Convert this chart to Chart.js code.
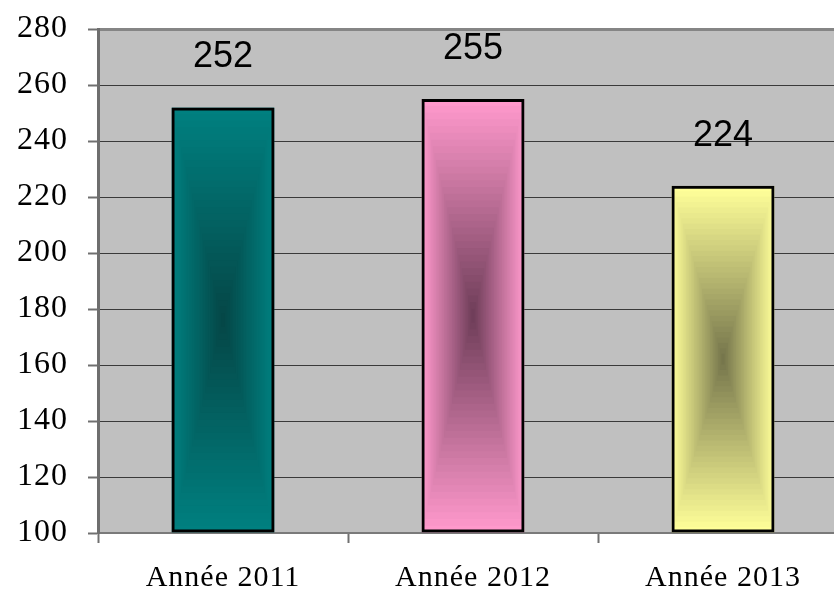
<!DOCTYPE html>
<html>
<head>
<meta charset="utf-8">
<script src="https://cdn.jsdelivr.net/npm/chart.js@4"></script>
<style>
  html, body { margin: 0; padding: 0; overflow: hidden; background: #ffffff; }
  #wrap { position: absolute; left: 0; top: 0; width: 850px; height: 594px; }
</style>
</head>
<body>
<div id="wrap"><canvas id="c" width="850" height="594"></canvas></div>
<script>
// Categories and values
const categories = ['Année 2011', 'Année 2012', 'Année 2013'];
const values = [252, 255, 224];

// Value axis range
const yMin = 100;
const yMax = 280;
const yStep = 20;

// Bar fill: edge colour fading to a darker core in the middle
const edgeColors = ['#008080', '#FF99CC', '#FFFF99'];
const coreColors = ['#054545', '#6b3b56', '#72724a'];

function hexToRgb(h) {
  const n = parseInt(h.slice(1), 16);
  return [(n >> 16) & 255, (n >> 8) & 255, n & 255];
}
function mix(a, b, t) {
  const A = hexToRgb(a), B = hexToRgb(b);
  const c = A.map((v, i) => Math.round(v + (B[i] - v) * t));
  return 'rgb(' + c.join(',') + ')';
}

// Background of the plot area
const plotBackground = {
  id: 'plotBackground',
  beforeDraw(chart) {
    const { ctx, chartArea: a } = chart;
    ctx.save();
    ctx.fillStyle = '#C0C0C0';
    ctx.fillRect(a.left, a.top, a.right - a.left, a.bottom - a.top);
    ctx.restore();
  }
};

// Rectangular "from centre" gradient painted under each bar outline
const centreGradient = {
  id: 'centreGradient',
  beforeDatasetsDraw(chart) {
    const { ctx, chartArea: a } = chart;
    const meta = chart.getDatasetMeta(0);
    const steps = 32;
    meta.data.forEach((bar, i) => {
      const left = bar.x - bar.width / 2;
      const top = Math.max(Math.min(bar.y, bar.base), a.top);
      const bottom = Math.min(Math.max(bar.y, bar.base), a.bottom);
      const h = bottom - top;
      const cx = bar.x, cy = top + h / 2;
      const hw = bar.width / 2, hh = h / 2;
      ctx.save();
      ctx.beginPath();
      ctx.rect(left, top, bar.width, h);
      ctx.clip();
      for (let s = steps; s >= 1; s--) {
        const t = s / steps;
        ctx.fillStyle = mix(coreColors[i], edgeColors[i], t);
        ctx.fillRect(cx - hw * t, cy - hh * t, hw * 2 * t, hh * 2 * t);
      }
      ctx.restore();
    });
  }
};

// Value written above each bar
const valueLabels = {
  id: 'valueLabels',
  afterDatasetsDraw(chart) {
    const { ctx } = chart;
    const meta = chart.getDatasetMeta(0);
    ctx.save();
    ctx.letterSpacing = '0px';
    ctx.font = '36px "Liberation Sans", Arial, sans-serif';
    ctx.fillStyle = '#000000';
    ctx.textAlign = 'center';
    ctx.textBaseline = 'middle';
    meta.data.forEach((bar, i) => {
      ctx.fillText(String(values[i]), bar.x, bar.y - 50);
    });
    ctx.restore();
  }
};

// Wider glyph spacing for the serif axis labels
const spacedLabels = {
  id: 'spacedLabels',
  afterLayout(chart) {
    const spacing = { x: '1px', y: '1px' };
    Object.keys(spacing).forEach(id => {
      const scale = chart.scales[id];
      if (!scale || scale._spaced) return;
      const orig = scale.drawLabels;
      scale.drawLabels = function (area) {
        const ctx = this.ctx;
        ctx.save();
        ctx.letterSpacing = spacing[id];
        orig.call(this, area);
        ctx.restore();
      };
      scale._spaced = true;
    });
  }
};

new Chart(document.getElementById('c'), {
  type: 'bar',
  data: {
    labels: categories,
    datasets: [{
      data: values,
      base: yMin,
      backgroundColor: 'rgba(0,0,0,0)',
      borderColor: '#000000',
      borderWidth: 3,
      borderSkipped: false,
      barPercentage: 0.412,
      categoryPercentage: 1
    }]
  },
  options: {
    responsive: false,
    animation: false,
    layout: { padding: { top: 29, right: 2, left: 0, bottom: 0 } },
    plugins: {
      legend: { display: false },
      tooltip: { enabled: false }
    },
    scales: {
      x: {
        offset: true,
        grid: {
          offset: true,
          drawOnChartArea: false,
          drawTicks: true,
          tickLength: 10,
          tickColor: '#707070',
          tickWidth: 2
        },
        border: { display: true, color: '#7a7a7a', width: 2 },
        ticks: {
          color: '#000000',
          padding: 17,
          maxRotation: 0,
          font: { family: '"Liberation Serif", "Times New Roman", serif', size: 30 }
        },
        afterFit(scale) { scale.height = 61; }
      },
      y: {
        min: yMin,
        max: yMax,
        ticks: {
          stepSize: yStep,
          color: '#000000',
          padding: 20,
          font: { family: '"Liberation Serif", "Times New Roman", serif', size: 32, lineHeight: 0.56 }
        },
        grid: {
          color: c => (c.tick && c.tick.value === yMax) ? '#858585' : '#3a3a3a',
          lineWidth: c => (c.tick && c.tick.value === yMax) ? 3 : 1,
          tickLength: 10,
          tickColor: '#707070',
          tickWidth: 2
        },
        border: { display: true, color: '#6e6e6e', width: 3 },
        afterFit(scale) { scale.width = 98; }
      }
    }
  },
  plugins: [plotBackground, centreGradient, valueLabels, spacedLabels]
});
</script>
</body>
</html>
